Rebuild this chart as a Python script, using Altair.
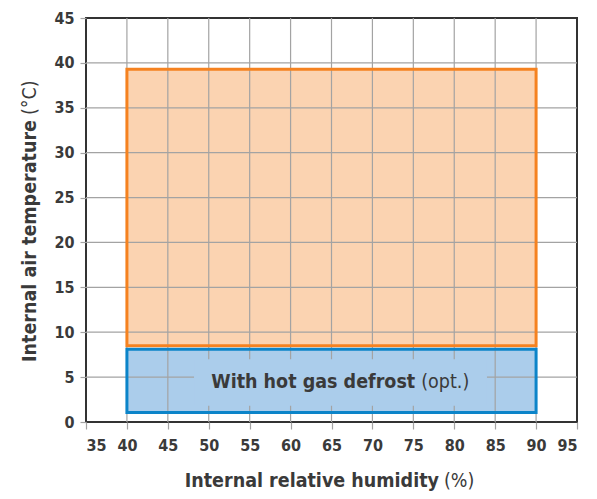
import altair as alt
import pandas as pd

# ---- data ----
x_ticks = [35, 40, 45, 50, 55, 60, 65, 70, 75, 80, 85, 90, 95]
y_ticks = [0, 5, 10, 15, 20, 25, 30, 35, 40, 45]

zone_names = ["Standard", "With hot gas defrost"]
zone_x_start = [40, 40]
zone_x_end = [90, 90]
zone_y_start = [8.5, 1.05]
zone_y_end = [39.3, 8.1]
zone_fill = ["#fbd3b1", "#abcdeb"]
zone_stroke = ["#f58220", "#0b84c9"]

label_bold = "With hot gas defrost"
label_normal = "(opt.)"
label_x = 75.6
label_y = 4.5
# area of the label that hides the grid
label_box = {"x": 48.2, "x2": 84.0, "y": 1.8, "y2": 7.0}

x_title_bold = "Internal relative humidity"
x_title_normal = "(%)"
y_title_bold = "Internal air temperature"
y_title_normal = "(°C)"

FONT = "Liberation Sans Narrow, DejaVu Sans Condensed, Arial Narrow, sans-serif"
TEXT = "#3a3a3a"
GRID = "#a3a3a3"
TS = 19.5

zones = pd.DataFrame({
    "zone": zone_names, "x": zone_x_start, "x2": zone_x_end,
    "y": zone_y_start, "y2": zone_y_end,
    "fill": zone_fill, "stroke": zone_stroke,
})
xgrid = pd.DataFrame({"v": x_ticks[1:-1]})
ygrid = pd.DataFrame({"v": y_ticks[1:-1]})

xs = alt.Scale(domain=[35, 95], nice=False, zero=False)
ys = alt.Scale(domain=[0, 45], nice=False, zero=False)

x_axis = alt.Axis(values=x_ticks, grid=False, domain=False, tickColor=GRID,
                  tickSize=7, tickWidth=1.2, labelPadding=8, labelFontSize=16,
                  labelFontWeight="bold", labelFont=FONT, labelColor=TEXT,
                  title=None)
y_axis = alt.Axis(values=y_ticks, grid=False, domain=False, tickColor=GRID,
                  tickSize=6, tickWidth=1.2, labelPadding=6, labelFontSize=16,
                  labelFontWeight="bold", labelFont=FONT, labelColor=TEXT,
                  title=None)

base = alt.Chart(zones)

fills = base.mark_rect(strokeWidth=0).encode(
    x=alt.X("x:Q", scale=xs, axis=x_axis),
    x2="x2:Q",
    y=alt.Y("y:Q", scale=ys, axis=y_axis),
    y2="y2:Q",
    fill=alt.Fill("fill:N", scale=None),
)

vgrid = alt.Chart(xgrid).mark_rule(color=GRID, strokeWidth=1.2).encode(
    x=alt.X("v:Q", scale=xs)
)
hgrid = alt.Chart(ygrid).mark_rule(color=GRID, strokeWidth=1.2).encode(
    y=alt.Y("v:Q", scale=ys)
)

outlines = base.mark_rect(fillOpacity=0, strokeWidth=3).encode(
    x=alt.X("x:Q", scale=xs), x2="x2:Q",
    y=alt.Y("y:Q", scale=ys), y2="y2:Q",
    stroke=alt.Stroke("stroke:N", scale=None),
)

cover = alt.Chart(pd.DataFrame([label_box])).mark_rect(
    fill=zone_fill[1], strokeWidth=0
).encode(
    x=alt.X("x:Q", scale=xs), x2="x2:Q",
    y=alt.Y("y:Q", scale=ys), y2="y2:Q",
)

lab = pd.DataFrame({"x": [label_x], "y": [label_y],
                    "b": [label_bold], "n": [label_normal]})
lab_bold = alt.Chart(lab).mark_text(
    font=FONT, fontSize=TS, fontWeight="bold", color=TEXT,
    align="right", baseline="middle", dx=-3
).encode(x=alt.X("x:Q", scale=xs), y=alt.Y("y:Q", scale=ys), text="b:N")
lab_norm = alt.Chart(lab).mark_text(
    font=FONT, fontSize=TS, fontWeight="normal", color=TEXT,
    align="left", baseline="middle", dx=3
).encode(x=alt.X("x:Q", scale=xs), y=alt.Y("y:Q", scale=ys), text="n:N")

tdf = pd.DataFrame({"xb": [x_title_bold], "xn": [x_title_normal],
                    "yb": [y_title_bold], "yn": [y_title_normal]})
tbase = alt.Chart(tdf)
xt_b = tbase.mark_text(font=FONT, fontSize=TS, fontWeight="bold", color=TEXT,
                       align="right", baseline="alphabetic").encode(
    x=alt.value(353), y=alt.value(469), text="xb:N")
xt_n = tbase.mark_text(font=FONT, fontSize=TS, fontWeight="normal", color=TEXT,
                       align="left", baseline="alphabetic").encode(
    x=alt.value(358), y=alt.value(469), text="xn:N")
yt_b = tbase.mark_text(font=FONT, fontSize=TS, fontWeight="bold", color=TEXT,
                       align="right", baseline="middle", angle=270).encode(
    x=alt.value(-56), y=alt.value(102), text="yb:N")
yt_n = tbase.mark_text(font=FONT, fontSize=TS, fontWeight="normal", color=TEXT,
                       align="left", baseline="middle", angle=270).encode(
    x=alt.value(-56), y=alt.value(97), text="yn:N")

chart = alt.layer(
    fills, vgrid, hgrid, outlines, cover, lab_bold, lab_norm,
    xt_b, xt_n, yt_b, yt_n
).properties(
    width=491, height=404,
    autosize=alt.AutoSizeParams(type="none"),
    padding={"left": 78, "top": 10, "right": 12, "bottom": 69},
    background="white",
).configure_view(
    stroke="#333333", strokeWidth=2
)

chart.save("out.html", embed_options={"renderer": "svg", "actions": False})
